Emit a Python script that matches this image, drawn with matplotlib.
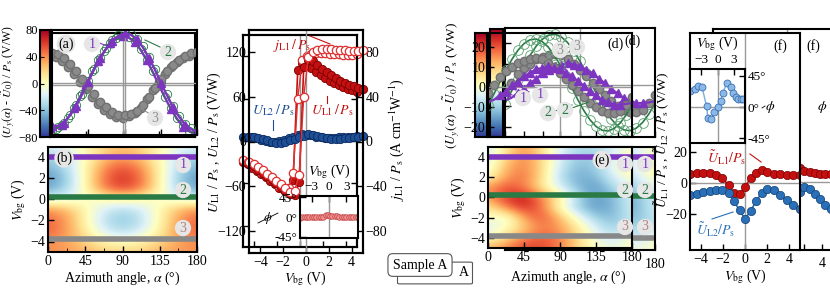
import numpy as np
import matplotlib
matplotlib.use("Agg")
import matplotlib.pyplot as plt
from matplotlib.lines import Line2D
from matplotlib.patches import FancyBboxPatch

plt.rcParams['font.family'] = ['Liberation Serif', 'DejaVu Serif']
plt.rcParams['mathtext.fontset'] = 'stix'
plt.rcParams['font.size'] = 10
plt.rcParams['axes.linewidth'] = 1.5

# ---------------- data ----------------
alpha_a = [0, 7.5, 15, 22.5, 30, 37.5, 45, 52.5, 60, 67.5, 75, 82.5, 90,
           97.5, 105, 112.5, 120, 127.5, 135, 142.5, 150, 157.5, 165, 172.5, 180]
a_curve1 = [-66, -66, -61, -50, -36, -18, 1, 20, 37, 52, 64, 71, 75, 73, 66, 54, 38, 20, 0, -19, -37, -52, -64, -71, -75]
a_curve2 = [-72, -68, -62, -50, -35, -17, 2, 21, 38, 53, 65, 72, 76, 74, 67, 55, 39, 21, 1, -18, -36, -51, -63, -70, -74]
a_curve3 = [45, 43, 37, 28, 17, 5, -6, -18, -29, -38, -45, -49, -50, -48, -43, -35, -22, -8, 5, 17, 27, 35, 41, 45, 47]

d_curve1 = [-7.5, -6.4, -4.0, -2.3, 0.8, 2.7, 5.6, 7.0, 9.0, 9.4, 10.3, 9.5, 8.9, 7.0, 5.5, 2.8, 0.7, -2.2, -4.1, -6.4, -7.5, -8.9, -8.8, -8.5, -7.9]
d_curve2 = [-9.1, -3.4, 2.6, 8.5, 13.9, 18.4, 21.7, 23.6, 24.0, 22.8, 20.1, 16.1, 11.1, 5.4, -0.6, -6.5, -11.9, -16.4, -19.7, -21.6, -22.0, -20.8, -18.1, -14.1, -9.1]
d_curve3 = [-3, 1, 5, 8, 10, 12, 13, 14, 14.5, 14, 12, 10, 7, 4, 1, -2, -5, -8, -10, -12, -13, -13, -12, -9, -5]

alpha_map = [0, 22.5, 45, 67.5, 90, 112.5, 135, 157.5, 180]
V_map = [-5, -4, -3, -2, -1, 0, 1, 2, 3, 4, 5]
b_map = [
    [40, 37, 30, 23, 20, 23, 30, 37, 40],
    [40, 34, 20, 6, 0, 6, 20, 34, 40],
    [50, 38, 10, -18, -30, -18, 10, 38, 50],
    [50, 37, 5, -27, -40, -27, 5, 37, 50],
    [40, 30, 5, -20, -30, -20, 5, 30, 40],
    [-15, -12, -5, 2, 5, 2, -5, -12, -15],
    [-50, -34, 5, 44, 60, 44, 5, -34, -50],
    [-55, -38, 5, 48, 65, 48, 5, -38, -55],
    [-45, -30, 5, 40, 55, 40, 5, -30, -45],
    [-35, -25, 0, 25, 35, 25, 0, -25, -35],
    [-15, -9, 5, 19, 25, 19, 5, -9, -15],
]
e_map = [
    [8, 12, 16, 16, 12, 5, 0, -3, 0],
    [0, 5, 12, 15, 12, 5, -3, -6, 0],
    [-5, 0, 6, 12, 10, 3, -5, -10, -5],
    [0, -3, 10, 15, 8, -2, -10, -12, -6],
    [3, 12, 18, 13, 0, -10, -15, -12, -5],
    [10, 17, 20, 12, 3, -8, -15, -12, -5],
    [10, 15, 12, 3, -5, -12, -15, -8, -3],
    [0, 10, 13, 5, -8, -13, -12, -5, 0],
    [-3, 8, 12, 5, -6, -12, -10, -2, 3],
    [-5, 5, 12, 5, -5, -10, -10, -5, 0],
    [-5, 3, 10, 4, -4, -8, -8, -4, 0],
]
band_V = [4, 0.2, -3.8]

V_c = [-5.0, -4.6, -4.2, -3.8, -3.4, -3.0, -2.6, -2.2, -1.8, -1.4, -1.0, -0.6, -0.2,
       0.2, 0.6, 1.0, 1.4, 1.8, 2.2, 2.6, 3.0, 3.4, 3.8, 4.2, 4.6, 5.0]
U_L1 = [-30, -33, -38, -42, -47, -51, -56, -61, -66, -70, -72, -55, 100,
        110, 108, 103, 98, 93, 89, 85, 82, 79, 76, 74, 72, 70]
j_L1 = [-18, -20, -23, -26, -29, -32, -35, -38, -42, -45, -44, -30, 40,
        76, 80, 82, 83, 83, 83, 82, 82, 82, 81, 81, 81, 82]
U_L2 = [6, 6, 5, 4, 2, 0, -2, -2, 0, 2, 4, 6, 8, 10, 9, 8, 6, 5, 4, 4, 4, 5, 5, 6, 6, 7]
phi_c = [-2, -1, -1, 0, -1, 0, 0, 1, 0, 1, 1, 5, 4, 3, 2, 2, 2, 1, 1, 1, 1, 0, 0, -1, -1, -1]

V_f = [-5, -4.4, -3.8, -3.2, -2.6, -2.1, -1.5, -1.0, -0.5, 0, 0.5, 1.0, 1.5, 2.0, 2.6, 3.2, 3.8, 4.4, 5.0]
Ut_L1 = [6, 6.5, 7, 7, 5.5, 3.5, -1, -6.5, -7, -2.5, 3.5, 7, 8.8, 7.3, 6.2, 5.8, 5.2, 5.2, 5.2]
Ut_L2 = [-7.7, -6.7, -5.6, -4.9, -4.5, -4.1, -6.2, -11.5, -17.5, -22.8, -18, -11.5, -6.5, -3.4, -4.5, -7.7, -11, -14.2, -16.8]
V_fi = [-5, -4.1, -3.5, -2.8, -2.0, -1.75, -1.15, -0.55, 0.05, 0.55, 0.95, 1.7, 2.5, 2.8, 3.3, 3.7, 4.3, 4.7]
phi_f = [23.6, 25.6, 30, 28.5, 1.4, -16, -17.9, -6.8, 0.5, 8.7, 19.8, 35.2, 28.5, 20.8, 14, 11.6, 11.6, 11.1]

PURPLE = '#7d35c0'
GREEN = '#2a7a45'
GRAYC = '#888888'
RED = '#c41010'
BLUE = '#1f4f95'
CMAP = 'RdYlBu_r'

# ---------------- figure ----------------
W, H = 830, 295
fig = plt.figure(figsize=(W / 100, H / 100), dpi=100)


def rect(x0, y0, x1, y1):
    return [x0 / W, 1 - y1 / H, (x1 - x0) / W, (y1 - y0) / H]


def T(x, y, s, color='black', size=10, ha='center', va='center', rot=0, bg=None):
    kw = {}
    if bg:
        kw['bbox'] = dict(boxstyle='circle,pad=0.12', fc=bg, ec='none')
    fig.text(x / W, 1 - y / H, s, color=color, fontsize=size, ha=ha, va=va,
             rotation=rot, zorder=20, **kw)


def L(x0, y0, x1, y1, color='black', lw=0.8):
    fig.add_artist(Line2D([x0 / W, x1 / W], [1 - y0 / H, 1 - y1 / H],
                          transform=fig.transFigure, color=color, lw=lw, zorder=19))


def style(ax, size=10):
    ax.tick_params(direction='in', length=4, width=1, labelsize=size, pad=2)


def colorbar_axes(r, vmin, vmax, ticks=None):
    cax = fig.add_axes(rect(*r))
    cax.imshow(np.linspace(vmin, vmax, 256)[:, None], aspect='auto', cmap=CMAP,
               origin='lower', extent=[0, 1, vmin, vmax])
    cax.set_xticks([])
    if ticks is None:
        cax.set_yticks([])
    else:
        cax.set_yticks(ticks)
        cax.yaxis.tick_left()
    cax.tick_params(direction='in', length=3, labelsize=9, pad=1.5)
    return cax


# ----- (a) -----
colorbar_axes((40, 30, 50, 137), -80, 80, [-80, -40, 0, 40, 80])
for r in [(50, 33, 195, 137), (52, 30, 197, 135)]:
    ax = fig.add_axes(rect(*r))
    ax.set_facecolor('none')
    ax.axhline(0, color='#999999', lw=1)
    ax.axvline(90, color='#999999', lw=1)
    ax.plot(alpha_a, a_curve2, '-', color=GREEN, lw=1)
    ax.plot(alpha_a, a_curve2, 'o', mfc='none', mec=GREEN, ms=6, mew=0.6)
    ax.plot(alpha_a, a_curve3, 'o', color='#8a8a8a', mec='#707070', ms=6)
    ax.plot(alpha_a, a_curve1, '-', color=PURPLE, lw=1.6)
    ax.plot(alpha_a[::2], a_curve1[::2], '^', color=PURPLE, ms=6)
    ax.set_xlim(0, 180)
    ax.set_ylim(-80, 80)
    ax.set_xticks([0, 45, 90, 135, 180])
    ax.set_xticklabels([])
    ax.set_yticks([])
    style(ax)
T(66, 44, '(a)', bg='#e6e6e6')
T(92, 44, '1', color=PURPLE, bg='#e6e6e6')
L(97, 42, 112, 48, PURPLE)
T(168, 52, '2', color=GREEN, bg='#e6e6e6')
L(160, 47, 145, 40, GREEN)
T(155, 118, '3', color='#909090', bg='#e6e6e6')
L(150, 114, 140, 108, '#909090')
T(9, 82, r'$(U_y(\alpha)$ - $\tilde{U}_0)$ / $P_\mathrm{s}$ (V/W)', rot=90, size=8.5)

# ----- (b) -----
ax = fig.add_axes(rect(48, 147, 197, 252))
ax.imshow(b_map, cmap=CMAP, vmin=-80, vmax=80, origin='lower',
          extent=[-11.25, 191.25, -5.5, 5.5], aspect='auto', interpolation='bicubic')
ax.set_xlim(0, 180)
ax.set_ylim(-5, 5)
for v, c in zip(band_V, [PURPLE, GREEN, GRAYC]):
    ax.axhline(v, color=c, lw=4)
ax.set_xticks([0, 45, 90, 135, 180])
ax.set_xticks([22.5, 67.5, 112.5, 157.5], minor=True)
ax.set_yticks([-4, -2, 0, 2, 4])
ax.tick_params(which='minor', direction='in', length=3)
style(ax)
ax.set_xlabel(r'Azimuth angle, $\alpha$ (°)', labelpad=1)
ax.set_ylabel(r'$V_\mathrm{bg}$ (V)', labelpad=2)
T(64, 158, '(b)', bg='#e6e6e6')
T(183, 165, '1', color=PURPLE, bg='#e6e6e6')
T(183, 190, '2', color=GREEN, bg='#e6e6e6')
T(183, 228, '3', color='#b08080', bg='#e6e6e6')

# ----- (c) -----
for k, r in enumerate([(243, 35, 357, 247), (249, 30, 363, 253)]):
    ax = fig.add_axes(rect(*r))
    ax.set_facecolor('none')
    ax.axvline(0, color='#999999', lw=1)
    ax.plot(V_c, U_L1, 'o-', color=RED, mfc=RED, mec='#7a0000', ms=6, lw=1.2, mew=0.6, clip_on=False)
    ax.plot(V_c, U_L2, 'o-', color=BLUE, mfc=BLUE, mec='#0a2a60', ms=6, lw=1.0, mew=0.6, clip_on=False)
    ax.set_xlim(-5, 5)
    ax.set_ylim(-150, 150)
    ax.set_yticks([-120, -60, 0, 60, 120])
    ax.set_xticks([-4, -2, 0, 2, 4])
    style(ax)
    ax2 = ax.twinx()
    ax2.plot(V_c, j_L1, 'o-', color='#e03030', mfc='white', mec='#e03030', ms=6, lw=1.0, mew=0.9, clip_on=False)
    ax2.set_ylim(-100, 100)
    ax2.set_yticks([-80, -40, 0, 40, 80])
    style(ax2)
    if k == 0:
        ax.set_xticklabels([])
        ax.set_yticklabels([])
        ax2.set_yticklabels([])
T(292, 45, r'$j_\mathrm{L1}\,/\,P_\mathrm{s}$', color=RED)
L(310, 36, 330, 44, RED)
T(332, 110, r'$U_\mathrm{L1}\,/\,P_\mathrm{s}$', color=RED)
L(327, 96, 327, 103, RED)
T(273, 110, r'$U_\mathrm{L2}\,/\,P_\mathrm{s}$', color=BLUE)
L(273, 120, 273, 130, BLUE)
T(305, 279, r'$V_\mathrm{bg}$ (V)')
T(214, 142, r'$U_\mathrm{L1}$ / $P_\mathrm{s}$ , $U_\mathrm{L2}$ / $P_\mathrm{s}$ (V/W)', rot=90)
T(397, 140, r'$j_\mathrm{L1}$ / $P_\mathrm{s}$ (A cm$^{-1}$W$^{-1}$)', rot=90)

axi = fig.add_axes(rect(300, 196, 358, 238))
axi.axhline(0, color='#999999', lw=1)
axi.axvline(0, color='#999999', lw=1)
axi.plot(V_c, phi_c, 'o-', color='#e07070', mfc='#f09090', mec='#c04040', ms=4, lw=0.8, mew=0.5)
axi.set_xlim(-5, 5)
axi.set_ylim(-48, 48)
axi.xaxis.tick_top()
axi.set_xticks([-3, 0, 3])
axi.set_yticks([-45, 0, 45])
axi.set_yticklabels(['-45°', '0°', '45°'])
style(axi, 9.5)
axi.xaxis.set_label_position('top')
axi.set_xlabel(r'$V_\mathrm{bg}$ (V)', labelpad=4)
T(268, 218, r'$\phi$', size=9)
L(258, 223, 278, 213, 'black', 0.6)

# ----- Sample A box (front box with a shifted shadow copy behind) -----
fig.add_artist(FancyBboxPatch((400 / W, 1 - 283 / H), 70 / W, 20 / H,
                              boxstyle='round,pad=0.003', transform=fig.transFigure,
                              fc='white', ec='#555555', lw=0.8, zorder=18))
T(464, 273, 'A')
fig.text(420 / W, 1 - 265 / H, 'Sample A', fontsize=10, ha='center', va='center', zorder=21,
         bbox=dict(boxstyle='round,pad=0.35', fc='white', ec='#555555', lw=0.8))

# ----- (d) -----
colorbar_axes((475, 33, 487, 137), -25, 25)
colorbar_axes((490, 29, 503, 137), -25, 25)
for k, (r, dx, dy) in enumerate([((505, 28, 655, 137), 17, -3), ((488, 33, 632, 137), 0, 0)]):
    ax = fig.add_axes(rect(*r))
    ax.set_facecolor('none')
    ax.axhline(0, color='#999999', lw=1)
    ax.axvline(90, color='#999999', lw=1)
    ax.plot(alpha_a, d_curve2, '-', color=GREEN, lw=1.2)
    ax.plot(alpha_a, d_curve2, 'o', mfc='none', mec='#5aa070', ms=7, mew=0.6)
    ax.plot(alpha_a, d_curve3, 'o', color='#8a8a8a', mec='#707070', ms=6)
    ax.plot(alpha_a, d_curve1, '-', color=PURPLE, lw=1.6)
    ax.plot(alpha_a[2:-2], d_curve1[2:-2], '^', color=PURPLE, ms=6)
    ax.set_xlim(0, 180)
    ax.set_ylim(-25, 27)
    ax.set_xticks([0, 45, 90, 135, 180])
    ax.set_xticklabels([])
    ax.set_yticks([-20, -10, 0, 10, 20])
    style(ax)
    if k == 0:
        ax.set_yticklabels([])
    T(615 + dx, 44 + dy, '(d)')
    T(523 + dx, 98 + dy, '1', color=PURPLE, bg='#e6e6e6')
    L(512 + dx, 95 + dy, 504 + dx, 90 + dy, PURPLE)
    T(548 + dx, 113 + dy, '2', color=GREEN, bg='#e6e6e6')
    L(555 + dx, 111 + dy, 572 + dx, 105 + dy, GREEN)
    T(560 + dx, 50 + dy, '3', color='#909090', bg='#e6e6e6')
    L(553 + dx, 54 + dy, 545 + dx, 60 + dy, '#909090')
T(452, 85, r'$(U_y(\alpha)$ - $\tilde{U}_0)$ / $P_\mathrm{s}$ (V/W)', rot=90, size=9.5)

# ----- (e) -----
for k, (r, dx) in enumerate([((505, 147, 655, 250), 20), ((488, 147, 632, 248), 0)]):
    ax = fig.add_axes(rect(*r))
    ax.imshow(e_map, cmap=CMAP, vmin=-22, vmax=22, origin='lower',
              extent=[-11.25, 191.25, -5.5, 5.5], aspect='auto', interpolation='bicubic')
    ax.set_xlim(0, 180)
    ax.set_ylim(-5, 5)
    for v, c in zip(band_V, [PURPLE, GREEN, GRAYC]):
        ax.axhline(v, color=c, lw=4)
    ax.set_xticks([0, 45, 90, 135, 180])
    ax.set_yticks([-4, -2, 0, 2, 4])
    style(ax)
    T(625 + dx, 164, '1', color=PURPLE, bg='#e6e6e6')
    T(625 + dx, 190, '2', color=GREEN, bg='#e6e6e6')
    T(625 + dx, 227, '3', color='#b08080', bg='#e6e6e6')
    if k == 0:
        ax.set_xticklabels(['', '', '', '', '180'])
        ax.tick_params(axis='x', pad=6)
        ax.set_yticklabels([])
    else:
        ax.set_xticklabels(['0', '45', '90', '135', '180'])
        ax.set_ylabel(r'$V_\mathrm{bg}$ (V)', labelpad=2)
T(568, 277, r'Azimuth angle, $\alpha$ (°)')
T(602, 160, '(e)', bg='#e6e6e6')

# ----- (f) -----
for k, (r, xl) in enumerate([((713, 29, 848, 250), (-8.5, 7)), ((690, 33, 800, 250), (-5, 5))]):
    ax = fig.add_axes(rect(*r))
    ax.set_facecolor('white')
    ax.axhline(0, color='#999999', lw=1)
    ax.axvline(0, color='#999999', lw=1)
    ax.plot(V_f, Ut_L1, 'o-', color=RED, mfc=RED, mec='#7a0000', ms=6, lw=1.2, mew=0.5)
    ax.plot(V_f, Ut_L2, 'o-', color='#2a70b8', mfc='#2a70b8', mec='#123f70', ms=6, lw=1.2, mew=0.5)
    ax.set_xlim(*xl)
    ax.set_ylim(-43, 97)
    ax.set_xticks([-4, -2, 0, 2, 4])
    ax.set_yticks([-20, 0, 20])
    style(ax)
    if k == 0:
        ax.set_yticklabels([])
        ax.set_xticklabels(['', '', '', '', '4'])
        ax.tick_params(axis='x', pad=5)
        T(813, 46, '(f)')
        T(822, 107, r'$\phi$')
    else:
        T(780, 46, '(f)')
        T(770, 107, r'$\phi$')
        L(762, 108, 765, 106, 'black', 0.6)
        T(745, 277, r'$V_\mathrm{bg}$ (V)')
T(662, 140, r'$\tilde{U}_\mathrm{L1}$ / $P_\mathrm{s}$ , $\tilde{U}_\mathrm{L2}$ / $P_\mathrm{s}$ (V/W)', rot=90, size=9.5)
T(727, 158, r'$\tilde{U}_\mathrm{L1}/P_\mathrm{s}$', color=RED)
L(750, 154, 761, 162, RED)
T(716, 230, r'$\tilde{U}_\mathrm{L2}/P_\mathrm{s}$', color='#2a70b8')
L(712, 219, 733, 212, '#2a70b8')

axf = fig.add_axes(rect(690, 69, 745, 143))
axf.axhline(0, color='#999999', lw=1)
axf.axvline(0, color='#999999', lw=1)
axf.plot(V_fi, phi_f, 'o-', color='#7aaee0', mfc='#8ab8e8', mec='#3a70b0', ms=5, lw=1.0, mew=0.6)
axf.set_xlim(-5, 5)
axf.set_ylim(-52, 55)
axf.xaxis.tick_top()
axf.yaxis.tick_right()
axf.set_xticks([-3, 0, 3])
axf.set_yticks([-45, 0, 45])
axf.set_yticklabels(['-45°', '0°', '45°'])
style(axf, 9.5)
axf.xaxis.set_label_position('top')
axf.set_xlabel(r'$V_\mathrm{bg}$ (V)', labelpad=5)

fig.savefig('out.png', dpi=100)
